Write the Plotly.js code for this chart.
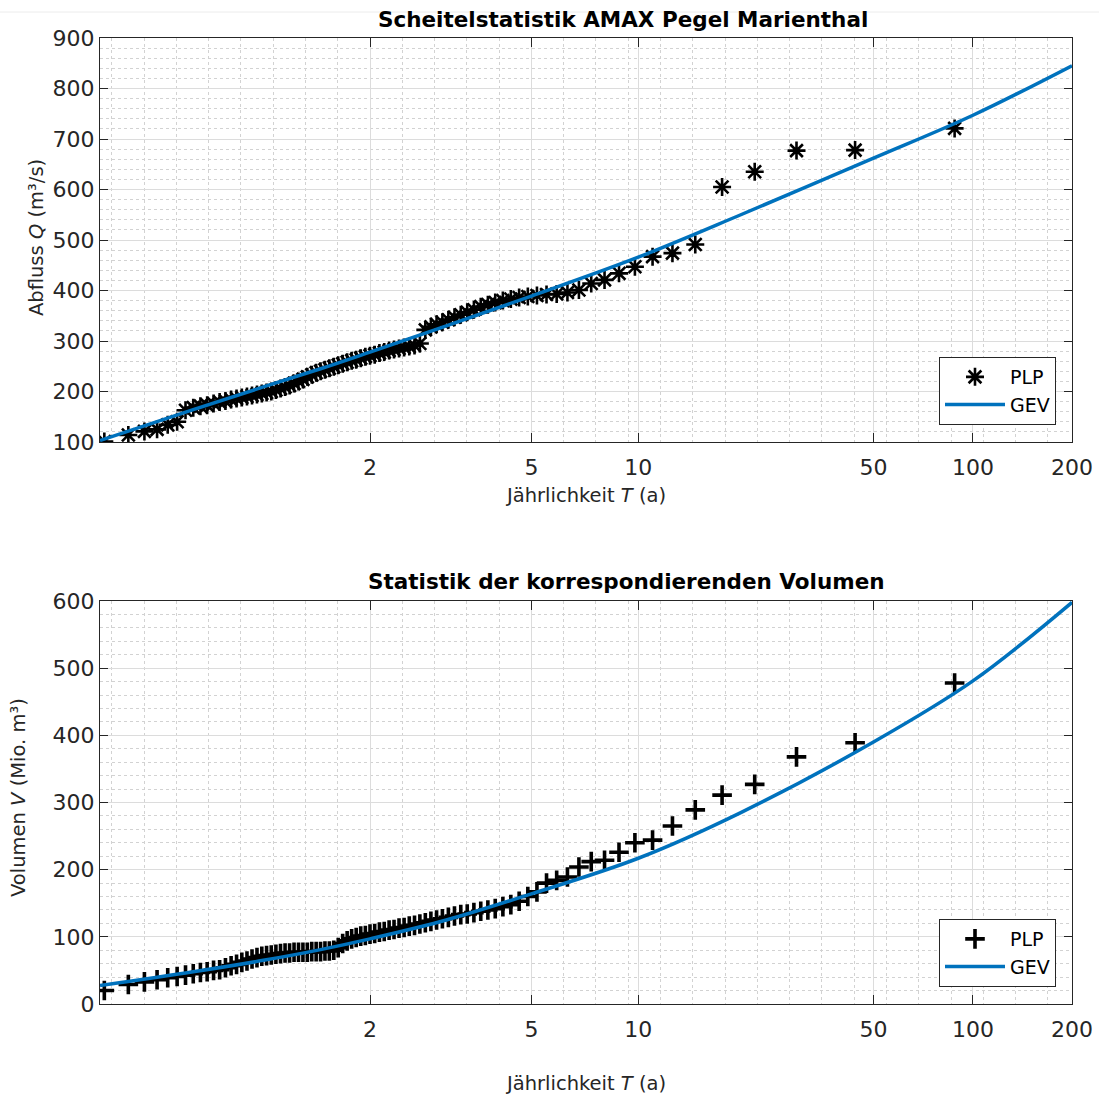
<!DOCTYPE html>
<html>
<head>
<meta charset="utf-8">
<script src="https://cdn.plot.ly/plotly-3.0.1.min.js"></script>
<style>
  html, body { margin: 0; padding: 0; background: #ffffff; }
  #chart { width: 1099px; height: 1097px; }
</style>
</head>
<body>
<div id="chart"></div>
<script>
// Return periods of the plotting positions (years), ascending
const T_PLP = [
  1.0115, 1.0233, 1.0353, 1.0476, 1.0602, 1.0732, 1.0864, 1.1000, 1.1139, 1.1282,
  1.1429, 1.1579, 1.1733, 1.1892, 1.2055, 1.2222, 1.2394, 1.2571, 1.2754, 1.2941,
  1.3134, 1.3333, 1.3538, 1.3750, 1.3968, 1.4194, 1.4426, 1.4667, 1.4915, 1.5172,
  1.5439, 1.5714, 1.6000, 1.6296, 1.6604, 1.6923, 1.7255, 1.7600, 1.7959, 1.8333,
  1.8723, 1.9130, 1.9556, 2.0000, 2.0465, 2.0952, 2.1463, 2.2000, 2.2564, 2.3158,
  2.3784, 2.4444, 2.5143, 2.5882, 2.6667, 2.7500, 2.8387, 2.9333, 3.0345, 3.1429,
  3.2593, 3.3846, 3.5200, 3.6667, 3.8261, 4.0000, 4.1905, 4.4000, 4.6316, 4.8889,
  5.1765, 5.5000, 5.8667, 6.2857, 6.7692, 7.3333, 8.0000, 8.8000, 9.7778, 11.000,
  12.571, 14.667, 17.600, 22.000, 29.333, 44.000, 88.000
];

// Annual maximum peak discharge Q (m³/s), same order
const Q_PLP = [
  101, 114, 121, 125, 134, 140, 163, 168, 171, 173,
  176, 179, 181, 184, 186, 188, 190, 192, 194, 196,
  198, 200, 203, 206, 209, 212, 216, 220, 224, 229,
  233, 237, 240, 243, 246, 249, 252, 255, 258, 261,
  263, 266, 269, 271, 273, 276, 278, 281, 283, 285,
  287, 289, 291, 295, 322, 328, 333, 337, 342, 347,
  352, 357, 362, 368, 372, 376, 380, 383, 386, 388,
  390, 392, 393, 396, 401, 414, 421, 434, 447, 467,
  474, 491, 605, 635, 677, 678, 721
];

// Corresponding flood volumes V (Mio. m³), same order
const V_PLP = [
  20, 29, 33, 36, 39, 41, 43, 45, 47, 48,
  50, 51, 54, 57, 59, 62, 64, 67, 69, 71,
  72, 73, 74, 75, 76, 76, 77, 77, 77, 77,
  78, 78, 78, 79, 79, 80, 84, 90, 94, 97,
  99, 101, 102, 104, 105, 107, 108, 110, 111, 113,
  114, 116, 117, 119, 121, 123, 125, 127, 129, 131,
  133, 134, 136, 138, 140, 142, 145, 148, 153, 160,
  167, 180, 184, 189, 204, 212, 214, 226, 240, 244,
  265, 289, 311, 327, 368, 389, 478
];

// Fitted GEV quantiles
const T_GEV = [1.01, 1.1, 1.3, 1.6, 2, 3, 5, 10, 20, 50, 100, 200];
const Q_GEV = [103, 164, 209, 245, 278, 330, 389, 466, 550, 662, 747, 845];
const V_GEV = [27.5, 48, 65, 81, 97, 125, 164, 217, 285, 390, 481, 598];

// Tick labels of the return-period axis
const T_TICKS = [2, 5, 10, 50, 100, 200];
const T_MIN = 1.01, T_MAX = 200;

// Gumbel reduced variate: the return-period axis is linear in this quantity
function gumbel(T) { return -Math.log(-Math.log(1 - 1 / T)); }

const W = 1099, H = 1097;
const fx = x => x / W;          // pixel -> paper x
const fy = y => 1 - y / H;      // pixel -> paper y

const FONT = 'DejaVu Sans';
const AXC = '#262626';
const BLUE = '#0072BD';

const gTicks = T_TICKS.map(gumbel);
const minorStep = (gumbel(5) - gumbel(2)) / 5;

function xAxis(anchor) {
  return {
    anchor: anchor,
    domain: [fx(100), fx(1072)],
    range: [gumbel(T_MIN), gumbel(T_MAX)],
    tickmode: 'array',
    tickvals: gTicks,
    ticktext: T_TICKS.map(String),
    ticks: 'inside', ticklen: 9, tickwidth: 1, tickcolor: AXC,
    ticklabelstandoff: 6,
    showline: true, linecolor: AXC, linewidth: 1, mirror: 'ticks',
    showgrid: true, gridcolor: '#dcdcdc', gridwidth: 1,
    zeroline: false,
    tickfont: { family: FONT, size: 22, color: AXC },
    minor: { tickmode: 'linear', tick0: gumbel(2), dtick: minorStep,
             showgrid: true, gridcolor: '#d2d2d2', griddash: 'dot', gridwidth: 1, ticks: '' },
    fixedrange: true
  };
}

function yAxis(anchor, dom, range) {
  return {
    anchor: anchor,
    domain: dom,
    range: range,
    dtick: 100, tick0: 0,
    ticks: 'inside', ticklen: 8, tickwidth: 1, tickcolor: AXC,
    showline: true, linecolor: AXC, linewidth: 1, mirror: 'ticks',
    showgrid: true, gridcolor: '#dcdcdc', gridwidth: 1,
    zeroline: false,
    tickfont: { family: FONT, size: 22, color: AXC },
    minor: { dtick: 20, showgrid: true, gridcolor: '#d2d2d2', griddash: 'dot', gridwidth: 1, ticks: '' },
    fixedrange: true
  };
}

const traces = [
  {
    x: T_PLP.map(gumbel), y: Q_PLP, xaxis: 'x', yaxis: 'y',
    mode: 'markers', name: 'PLP', legend: 'legend',
    marker: { symbol: 'asterisk-open', size: 15, color: '#000000',
              line: { color: '#000000', width: 2.6 } }
  },
  {
    x: T_GEV.map(gumbel), y: Q_GEV, xaxis: 'x', yaxis: 'y',
    mode: 'lines', name: 'GEV', legend: 'legend',
    line: { color: BLUE, width: 3.5, shape: 'spline' }
  },
  {
    x: T_PLP.map(gumbel), y: V_PLP, xaxis: 'x2', yaxis: 'y2',
    mode: 'markers', name: 'PLP', legend: 'legend2',
    marker: { symbol: 'cross-thin-open', size: 14, color: '#000000',
              line: { color: '#000000', width: 3.6 } }
  },
  {
    x: T_GEV.map(gumbel), y: V_GEV, xaxis: 'x2', yaxis: 'y2',
    mode: 'lines', name: 'GEV', legend: 'legend2',
    line: { color: BLUE, width: 3.5, shape: 'spline' }
  }
];

function legendBox(bottomPx) {
  return {
    x: fx(1056), xanchor: 'right', xref: 'paper',
    y: fy(bottomPx), yanchor: 'bottom', yref: 'paper',
    bgcolor: '#ffffff', bordercolor: AXC, borderwidth: 1,
    font: { family: FONT, size: 19, color: '#000000' },
    itemwidth: 60, tracegroupgap: 0
  };
}

function ann(text, xPx, yPx, opts) {
  return Object.assign({
    text: text, xref: 'paper', yref: 'paper',
    x: fx(xPx), y: fy(yPx), xanchor: 'center', yanchor: 'middle',
    showarrow: false, font: { family: FONT, size: 19.5, color: AXC }
  }, opts || {});
}

const TITLE_FONT = { family: FONT, size: 21.5, color: '#000000' };

const layout = {
  width: W, height: H,
  margin: { l: 0, r: 0, t: 0, b: 0 },
  paper_bgcolor: '#ffffff', plot_bgcolor: '#ffffff',
  showlegend: true,
  xaxis: xAxis('y'),
  yaxis: yAxis('x', [fy(442), fy(38)], [100, 900]),
  xaxis2: xAxis('y2'),
  yaxis2: yAxis('x2', [fy(1004), fy(601)], [0, 600]),
  legend: legendBox(425),
  legend2: legendBox(987),
  shapes: [
    { type: 'line', xref: 'paper', yref: 'paper', x0: 0, x1: 1, y0: fy(12), y1: fy(12),
      line: { color: '#ececec', width: 1 } }
  ],
  annotations: [
    ann('<b>Scheitelstatistik AMAX Pegel Marienthal</b>', 623, 19, { font: TITLE_FONT }),
    ann('<b>Statistik der korrespondierenden Volumen</b>', 626, 581, { font: TITLE_FONT }),
    ann('Jährlichkeit <i>T</i> (a)', 585, 495),
    ann('Jährlichkeit <i>T</i> (a)', 585, 1083),
    ann('Abfluss <i>Q</i> (m³/s)', 37, 238, { textangle: -90 }),
    ann('Volumen <i>V</i> (Mio. m³)', 18, 798, { textangle: -90 })
  ]
};

Plotly.newPlot('chart', traces, layout, { displayModeBar: false, staticPlot: true });
</script>
</body>
</html>
